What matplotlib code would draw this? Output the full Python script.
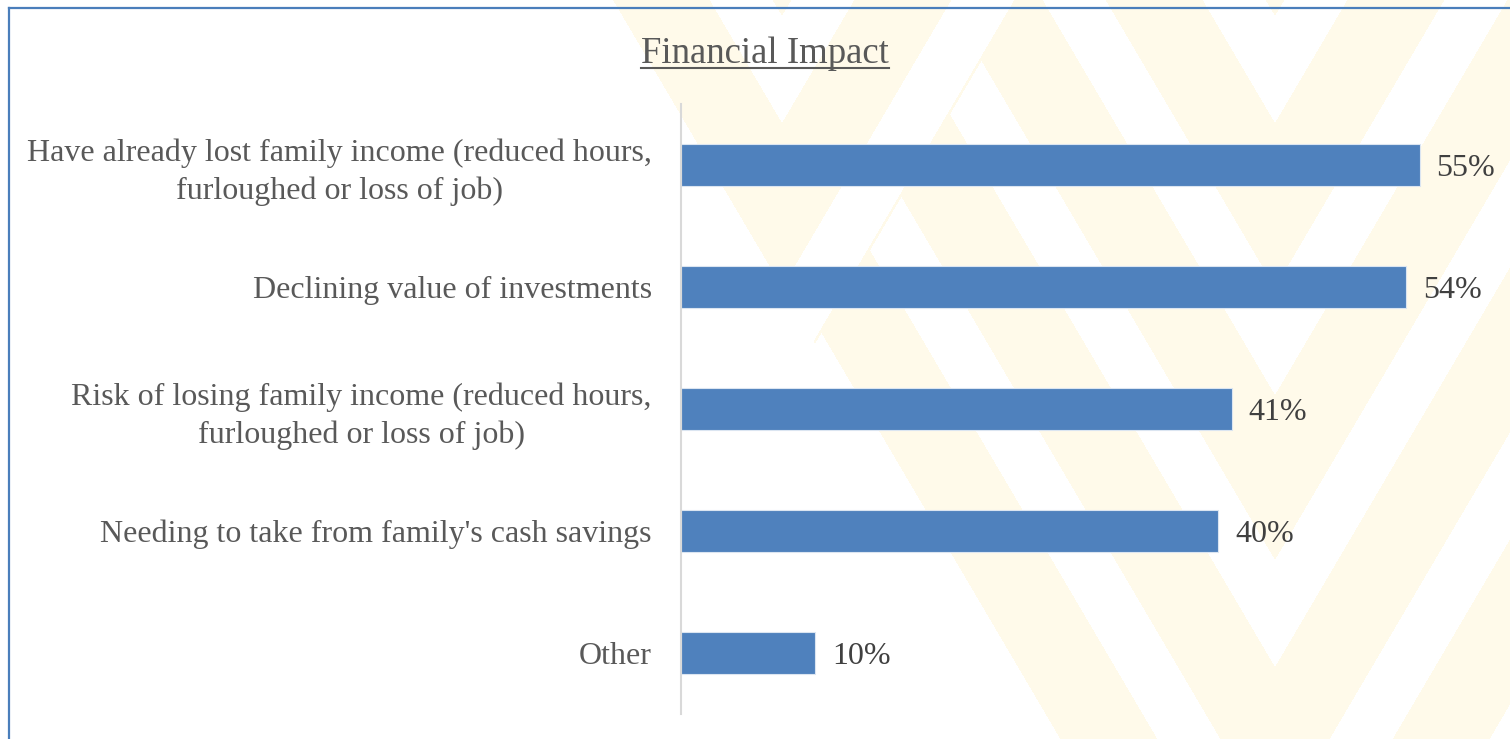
import numpy as np
import matplotlib
matplotlib.use("Agg")
import matplotlib.pyplot as plt
from matplotlib.lines import Line2D

# data
categories = [
    "Have already lost family income (reduced hours,\nfurloughed or loss of job)",
    "Declining value of investments",
    "Risk of losing family income (reduced hours,\nfurloughed or loss of job)",
    "Needing to take from family's cash savings",
    "Other",
]
values = [55, 54, 41, 40, 10]
title = "Financial Impact"

W, H = 1510, 739
plt.rcParams['font.family'] = ['Liberation Serif', 'DejaVu Serif']

fig = plt.figure(figsize=(W / 100, H / 100), dpi=100)
fig.patch.set_facecolor('white')

# faint yellow "W" watermark behind the chart
bg = fig.add_axes([0, 0, 1, 1], zorder=-5)
xx, yy = np.meshgrid(np.arange(W) + 0.5, np.arange(H) + 0.5)
slope = 1.7
in_left_v = xx < 812 - (yy - 349) / slope
d = np.where(in_left_v, np.abs(xx - 782), np.abs(xx - 1275))
phase = np.mod(yy - 123 + slope * d, 272)
mask = (phase < 165) & (xx > 613 + yy / slope)
img = np.ones((H, W, 3))
img[mask] = np.array([255, 250, 234]) / 255.0
bg.imshow(img, extent=[0, W, H, 0], aspect='auto', interpolation='bilinear')
bg.plot([9, 9], [8, H], color='#4a7ebb', lw=1.6)
bg.plot([9, W], [8, 8], color='#4a7ebb', lw=1.6)
bg.set_xlim(0, W)
bg.set_ylim(H, 0)
bg.axis('off')

# main chart
ax = fig.add_axes([681 / W, 1 - 714 / H, (1487 - 681) / W, (714 - 104) / H])
ax.patch.set_alpha(0)
pos = np.arange(len(categories))
ax.barh(pos, values, height=0.35, color='#4f81bd', edgecolor='#dbe5f1', linewidth=0.8)
ax.set_xlim(0, 60)
ax.set_ylim(len(categories) - 0.5, -0.5)
ax.set_yticks(pos)
ax.set_yticklabels(categories, fontsize=23, color='#595959')
for lbl in ax.get_yticklabels():
    lbl.set_multialignment('center')
    lbl.set_linespacing(1.35)
ax.tick_params(axis='y', length=0, pad=21)
ax.set_xticks([])
for s in ['top', 'right', 'bottom']:
    ax.spines[s].set_visible(False)
ax.spines['left'].set_color('#d9d9d9')
ax.spines['left'].set_linewidth(1.5)

for p, v in zip(pos, values):
    ax.annotate(f"{v}%", xy=(v, p), xytext=(12, -7.6), textcoords='offset points',
                va='baseline', ha='left', fontsize=23, color='#404040')

t = fig.text(765 / W, 1 - 63 / H, title, ha='center', va='baseline',
             fontsize=26.5, color='#595959')
fig.canvas.draw()
bb = t.get_window_extent().transformed(fig.transFigure.inverted())
fig.add_artist(Line2D([bb.x0, bb.x1], [1 - 68 / H, 1 - 68 / H],
                      transform=fig.transFigure, color='#595959', lw=1.5))

fig.savefig('out.png', dpi=100)
